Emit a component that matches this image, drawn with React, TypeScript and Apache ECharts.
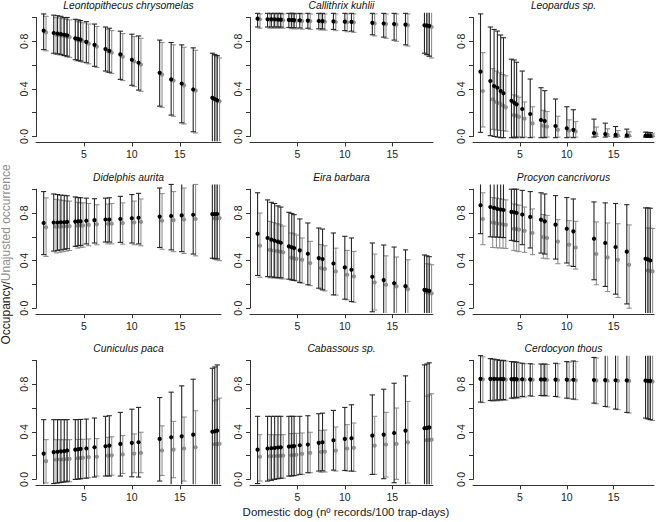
import React, { useEffect, useRef } from "react";
import * as echarts from "echarts";

// x values: domestic dog records / 100 trap-days (shared by all panels)
const dogRecords = [0.8, 1.85, 2.25, 2.6, 2.95, 3.25, 4.1, 4.4, 4.65, 5.25, 6.1, 7.25, 7.65, 8.8, 10.0, 10.7, 12.9, 14.1, 15.2, 16.4, 18.4, 18.65, 18.9];
const xTicks = [5, 10, 15];
const yTicks = [0, 0.2, 0.4, 0.6, 0.8, 1.0];
const yLabelValues = [0, 0.4, 0.8];
const yLabelTexts = ["0·0", "0·4", "0·8"];
const speciesNames = [
  "Leontopithecus chrysomelas", "Callithrix kuhlii", "Leopardus sp.",
  "Didelphis aurita", "Eira barbara", "Procyon cancrivorus",
  "Cuniculus paca", "Cabassous sp.", "Cerdocyon thous",
];

// Leontopithecus chrysomelas
const leoOcc = [0.89, 0.87, 0.865, 0.86, 0.855, 0.85, 0.825, 0.82, 0.815, 0.795, 0.77, 0.735, 0.72, 0.69, 0.645, 0.62, 0.535, 0.48, 0.445, 0.395, 0.325, 0.315, 0.305];
const leoOccLo = [0.73, 0.70, 0.695, 0.69, 0.68, 0.675, 0.645, 0.64, 0.635, 0.62, 0.59, 0.55, 0.54, 0.48, 0.43, 0.39, 0.255, 0.18, 0.115, 0.04, -0.1, -0.1, -0.1];
const leoOccHi = [1.03, 1.02, 1.015, 1.01, 1.0, 1.0, 0.985, 0.98, 0.975, 0.965, 0.945, 0.92, 0.91, 0.885, 0.86, 0.845, 0.81, 0.79, 0.77, 0.745, 0.70, 0.69, 0.68];
const leoNai = [0.875, 0.855, 0.85, 0.845, 0.84, 0.835, 0.81, 0.805, 0.80, 0.78, 0.755, 0.72, 0.705, 0.67, 0.63, 0.605, 0.52, 0.47, 0.43, 0.385, 0.31, 0.30, 0.295];
const leoNaiLo = [0.72, 0.69, 0.685, 0.68, 0.67, 0.665, 0.635, 0.63, 0.625, 0.61, 0.58, 0.54, 0.53, 0.47, 0.42, 0.38, 0.245, 0.17, 0.105, 0.03, -0.1, -0.1, -0.1];
const leoNaiHi = [1.01, 1.0, 0.995, 0.99, 0.985, 0.98, 0.965, 0.96, 0.955, 0.945, 0.925, 0.9, 0.89, 0.865, 0.84, 0.825, 0.79, 0.77, 0.75, 0.725, 0.68, 0.67, 0.66];

// Callithrix kuhlii
const calOcc = [0.99, 0.985, 0.985, 0.985, 0.983, 0.982, 0.98, 0.979, 0.978, 0.976, 0.974, 0.971, 0.97, 0.967, 0.965, 0.963, 0.955, 0.95, 0.945, 0.94, 0.935, 0.933, 0.93];
const calOccLo = [0.92, 0.92, 0.92, 0.92, 0.92, 0.92, 0.916, 0.915, 0.915, 0.912, 0.91, 0.905, 0.904, 0.9, 0.89, 0.885, 0.855, 0.835, 0.81, 0.77, 0.70, 0.69, 0.675];
const calOccHi = [1.035, 1.035, 1.035, 1.035, 1.035, 1.035, 1.035, 1.035, 1.035, 1.035, 1.035, 1.035, 1.035, 1.035, 1.035, 1.035, 1.035, 1.035, 1.035, 1.035, 1.06, 1.06, 1.06];
const calNai = [0.985, 0.98, 0.98, 0.98, 0.978, 0.977, 0.975, 0.974, 0.973, 0.971, 0.969, 0.966, 0.965, 0.962, 0.96, 0.958, 0.95, 0.945, 0.94, 0.935, 0.925, 0.923, 0.92];
const calNaiLo = [0.91, 0.91, 0.91, 0.91, 0.91, 0.91, 0.906, 0.905, 0.905, 0.902, 0.9, 0.895, 0.894, 0.89, 0.88, 0.875, 0.845, 0.825, 0.80, 0.76, 0.685, 0.675, 0.66];
const calNaiHi = [1.03, 1.03, 1.03, 1.03, 1.03, 1.03, 1.03, 1.03, 1.03, 1.03, 1.03, 1.03, 1.03, 1.03, 1.03, 1.03, 1.03, 1.03, 1.03, 1.03, 1.06, 1.06, 1.06];

// Leopardus sp.
const leaOcc = [0.545, 0.466, 0.424, 0.41, 0.382, 0.363, 0.30, 0.284, 0.27, 0.231, 0.189, 0.139, 0.13, 0.088, 0.069, 0.056, 0.028, 0.02, 0.014, 0.01, 0.006, 0.005, 0.005];
const leaOccLo = [0.035, 0.007, 0.0, -0.005, -0.01, -0.01, -0.01, -0.01, -0.01, -0.01, -0.01, -0.01, -0.01, -0.01, -0.01, -0.01, -0.005, -0.005, -0.005, -0.005, -0.005, -0.005, -0.005];
const leaOccHi = [1.03, 0.92, 0.90, 0.886, 0.853, 0.83, 0.65, 0.643, 0.624, 0.55, 0.483, 0.41, 0.385, 0.315, 0.25, 0.225, 0.146, 0.112, 0.084, 0.062, 0.037, 0.035, 0.033];
const leaNai = [0.382, 0.312, 0.29, 0.28, 0.26, 0.245, 0.18, 0.175, 0.165, 0.15, 0.11, 0.09, 0.082, 0.056, 0.048, 0.042, 0.02, 0.015, 0.01, 0.008, 0.005, 0.004, 0.004];
const leaNaiLo = [0.08, 0.06, 0.055, 0.05, 0.05, 0.045, 0.0, 0.0, 0.0, -0.005, -0.005, -0.005, -0.005, -0.005, -0.005, -0.005, 0.0, 0.0, 0.0, 0.0, 0.0, 0.0, 0.0];
const leaNaiHi = [0.705, 0.57, 0.55, 0.535, 0.52, 0.51, 0.35, 0.34, 0.33, 0.29, 0.25, 0.22, 0.21, 0.17, 0.14, 0.125, 0.08, 0.065, 0.05, 0.04, 0.025, 0.024, 0.023];

// Didelphis aurita
const didOcc = [0.716, 0.72, 0.72, 0.722, 0.722, 0.725, 0.728, 0.73, 0.73, 0.735, 0.74, 0.745, 0.745, 0.75, 0.756, 0.76, 0.77, 0.775, 0.78, 0.785, 0.79, 0.79, 0.792];
const didOccLo = [0.45, 0.48, 0.485, 0.49, 0.495, 0.5, 0.52, 0.525, 0.528, 0.54, 0.548, 0.556, 0.556, 0.553, 0.548, 0.54, 0.51, 0.49, 0.475, 0.455, 0.42, 0.418, 0.415];
const didOccHi = [0.98, 0.96, 0.955, 0.95, 0.948, 0.945, 0.935, 0.93, 0.928, 0.925, 0.92, 0.925, 0.928, 0.94, 0.955, 0.965, 1.01, 1.04, 1.06, 1.08, 1.1, 1.1, 1.1];
const didNai = [0.68, 0.685, 0.685, 0.687, 0.687, 0.69, 0.693, 0.695, 0.695, 0.70, 0.705, 0.71, 0.71, 0.715, 0.72, 0.725, 0.735, 0.74, 0.745, 0.75, 0.755, 0.755, 0.757];
const didNaiLo = [0.435, 0.465, 0.47, 0.475, 0.48, 0.485, 0.505, 0.51, 0.513, 0.525, 0.533, 0.541, 0.541, 0.538, 0.533, 0.525, 0.495, 0.475, 0.46, 0.44, 0.41, 0.405, 0.40];
const didNaiHi = [0.927, 0.915, 0.91, 0.905, 0.9, 0.9, 0.89, 0.885, 0.885, 0.88, 0.87, 0.875, 0.88, 0.885, 0.9, 0.918, 0.963, 0.98, 1.01, 1.04, 1.07, 1.07, 1.07];

// Eira barbara
const eirOcc = [0.626, 0.59, 0.576, 0.567, 0.559, 0.55, 0.52, 0.512, 0.505, 0.486, 0.458, 0.421, 0.413, 0.376, 0.343, 0.323, 0.264, 0.236, 0.21, 0.185, 0.154, 0.15, 0.146];
const eirOccLo = [0.275, 0.265, 0.263, 0.26, 0.258, 0.256, 0.244, 0.238, 0.233, 0.216, 0.197, 0.168, 0.154, 0.112, 0.076, 0.056, -0.03, -0.06, -0.08, -0.1, -0.15, -0.15, -0.15];
const eirOccHi = [0.97, 0.91, 0.89, 0.88, 0.86, 0.85, 0.806, 0.796, 0.786, 0.75, 0.716, 0.674, 0.665, 0.632, 0.604, 0.59, 0.548, 0.531, 0.514, 0.49, 0.447, 0.44, 0.433];
const eirNai = [0.525, 0.49, 0.485, 0.48, 0.475, 0.47, 0.425, 0.42, 0.415, 0.407, 0.379, 0.337, 0.33, 0.309, 0.281, 0.267, 0.216, 0.197, 0.183, 0.16, 0.132, 0.128, 0.125];
const eirNaiLo = [0.26, 0.255, 0.253, 0.25, 0.248, 0.246, 0.24, 0.235, 0.228, 0.21, 0.19, 0.16, 0.145, 0.11, 0.07, 0.05, -0.015, -0.05, -0.07, -0.1, -0.15, -0.15, -0.15];
const eirNaiHi = [0.80, 0.73, 0.72, 0.71, 0.70, 0.69, 0.632, 0.625, 0.615, 0.59, 0.562, 0.534, 0.525, 0.505, 0.486, 0.477, 0.455, 0.44, 0.43, 0.407, 0.373, 0.37, 0.365];

// Procyon cancrivorus
const proOcc = [0.865, 0.85, 0.843, 0.834, 0.829, 0.825, 0.809, 0.806, 0.80, 0.787, 0.767, 0.744, 0.73, 0.702, 0.668, 0.646, 0.584, 0.548, 0.514, 0.475, 0.416, 0.41, 0.401];
const proOccLo = [0.626, 0.6, 0.598, 0.597, 0.595, 0.593, 0.57, 0.565, 0.56, 0.534, 0.506, 0.463, 0.455, 0.413, 0.38, 0.351, 0.239, 0.183, 0.118, 0.036, -0.1, -0.1, -0.1];
const proOccHi = [1.05, 1.05, 1.05, 1.05, 1.05, 1.05, 1.0, 1.0, 1.0, 0.99, 0.98, 0.97, 0.96, 0.946, 0.93, 0.918, 0.893, 0.885, 0.88, 0.87, 0.843, 0.843, 0.84];
const proNai = [0.75, 0.72, 0.715, 0.71, 0.705, 0.70, 0.668, 0.665, 0.66, 0.65, 0.632, 0.598, 0.59, 0.56, 0.534, 0.51, 0.455, 0.427, 0.407, 0.365, 0.317, 0.313, 0.31];
const proNaiLo = [0.534, 0.51, 0.508, 0.506, 0.504, 0.502, 0.486, 0.48, 0.475, 0.469, 0.45, 0.42, 0.415, 0.374, 0.357, 0.329, 0.197, 0.14, 0.09, 0.0, -0.1, -0.1, -0.1];
const proNaiHi = [0.97, 0.93, 0.925, 0.92, 0.915, 0.91, 0.876, 0.87, 0.865, 0.85, 0.834, 0.787, 0.78, 0.744, 0.736, 0.73, 0.725, 0.716, 0.71, 0.70, 0.674, 0.672, 0.67];

// Cuniculus paca
const cunOcc = [0.217, 0.229, 0.232, 0.235, 0.238, 0.243, 0.25, 0.253, 0.256, 0.26, 0.27, 0.279, 0.284, 0.298, 0.307, 0.312, 0.34, 0.354, 0.362, 0.376, 0.40, 0.405, 0.41];
const cunOccLo = [-0.06, -0.035, -0.03, -0.025, -0.02, -0.015, 0.0, 0.003, 0.006, 0.01, 0.02, 0.028, 0.028, 0.028, 0.022, 0.02, -0.014, -0.05, -0.08, -0.12, -0.15, -0.15, -0.15];
const cunOccHi = [0.502, 0.502, 0.502, 0.502, 0.502, 0.502, 0.502, 0.503, 0.504, 0.507, 0.516, 0.53, 0.535, 0.563, 0.59, 0.605, 0.688, 0.733, 0.786, 0.842, 0.934, 0.945, 0.962];
const cunNai = [0.153, 0.165, 0.167, 0.168, 0.17, 0.172, 0.178, 0.18, 0.182, 0.187, 0.19, 0.2, 0.202, 0.21, 0.217, 0.223, 0.243, 0.25, 0.26, 0.27, 0.295, 0.297, 0.3];
const cunNaiLo = [-0.03, -0.03, -0.028, -0.025, -0.022, -0.02, 0.0, 0.005, 0.01, 0.014, 0.028, 0.033, 0.035, 0.05, 0.056, 0.056, 0.033, 0.014, -0.014, -0.05, -0.1, -0.1, -0.1];
const cunNaiHi = [0.334, 0.334, 0.334, 0.334, 0.334, 0.334, 0.335, 0.336, 0.337, 0.34, 0.343, 0.354, 0.358, 0.368, 0.382, 0.396, 0.45, 0.488, 0.524, 0.577, 0.66, 0.67, 0.683];

// Cabassous sp.
const cabOcc = [0.25, 0.26, 0.262, 0.265, 0.268, 0.27, 0.276, 0.278, 0.28, 0.287, 0.293, 0.307, 0.312, 0.329, 0.34, 0.346, 0.368, 0.376, 0.39, 0.41, 0.43, 0.433, 0.437];
const cabOccLo = [-0.035, -0.014, -0.008, 0.0, 0.006, 0.01, 0.028, 0.03, 0.033, 0.042, 0.056, 0.07, 0.072, 0.078, 0.075, 0.07, 0.042, 0.006, -0.028, -0.06, -0.1, -0.1, -0.1];
const cabOccHi = [0.53, 0.53, 0.53, 0.53, 0.53, 0.53, 0.53, 0.53, 0.53, 0.53, 0.535, 0.552, 0.557, 0.58, 0.605, 0.627, 0.71, 0.758, 0.808, 0.87, 0.962, 0.97, 0.98];
const cabNai = [0.19, 0.195, 0.196, 0.197, 0.198, 0.2, 0.203, 0.205, 0.207, 0.215, 0.223, 0.23, 0.233, 0.242, 0.26, 0.265, 0.284, 0.293, 0.298, 0.312, 0.33, 0.332, 0.334];
const cabNaiLo = [-0.014, 0.0, 0.003, 0.006, 0.008, 0.01, 0.028, 0.03, 0.033, 0.042, 0.056, 0.06, 0.062, 0.07, 0.07, 0.067, 0.042, 0.02, 0.0, -0.03, -0.1, -0.1, -0.1];
const cabNaiHi = [0.376, 0.376, 0.376, 0.376, 0.376, 0.376, 0.385, 0.386, 0.387, 0.39, 0.396, 0.412, 0.415, 0.44, 0.46, 0.474, 0.53, 0.563, 0.6, 0.655, 0.70, 0.71, 0.72];

// Cerdocyon thous
const cerOcc = [0.845, 0.845, 0.845, 0.844, 0.844, 0.844, 0.843, 0.843, 0.842, 0.842, 0.841, 0.84, 0.84, 0.839, 0.838, 0.837, 0.835, 0.834, 0.833, 0.832, 0.83, 0.829, 0.828];
const cerOccLo = [0.65, 0.663, 0.665, 0.667, 0.669, 0.671, 0.683, 0.686, 0.69, 0.697, 0.702, 0.705, 0.705, 0.697, 0.683, 0.675, 0.641, 0.613, 0.591, 0.563, 0.515, 0.51, 0.502];
const cerOccHi = [1.04, 1.015, 1.01, 1.005, 1.0, 1.0, 0.99, 0.988, 0.985, 0.976, 0.972, 0.97, 0.97, 0.976, 0.99, 0.995, 1.025, 1.05, 1.07, 1.09, 1.12, 1.12, 1.12];
const cerNai = [0.84, 0.84, 0.84, 0.839, 0.839, 0.839, 0.838, 0.838, 0.837, 0.837, 0.836, 0.835, 0.835, 0.834, 0.833, 0.832, 0.83, 0.829, 0.828, 0.827, 0.824, 0.823, 0.822];
const cerNaiLo = [0.645, 0.658, 0.66, 0.662, 0.664, 0.666, 0.678, 0.681, 0.685, 0.692, 0.697, 0.7, 0.7, 0.692, 0.678, 0.67, 0.636, 0.608, 0.586, 0.558, 0.508, 0.503, 0.495];
const cerNaiHi = [1.03, 1.01, 1.005, 1.0, 0.995, 0.995, 0.985, 0.983, 0.98, 0.972, 0.968, 0.966, 0.966, 0.972, 0.985, 0.99, 1.02, 1.045, 1.065, 1.085, 1.11, 1.11, 1.11];

const panelData = [
  [leoOcc, leoOccLo, leoOccHi, leoNai, leoNaiLo, leoNaiHi],
  [calOcc, calOccLo, calOccHi, calNai, calNaiLo, calNaiHi],
  [leaOcc, leaOccLo, leaOccHi, leaNai, leaNaiLo, leaNaiHi],
  [didOcc, didOccLo, didOccHi, didNai, didNaiLo, didNaiHi],
  [eirOcc, eirOccLo, eirOccHi, eirNai, eirNaiLo, eirNaiHi],
  [proOcc, proOccLo, proOccHi, proNai, proNaiLo, proNaiHi],
  [cunOcc, cunOccLo, cunOccHi, cunNai, cunNaiLo, cunNaiHi],
  [cabOcc, cabOccLo, cabOccHi, cabNai, cabNaiLo, cabNaiHi],
  [cerOcc, cerOccLo, cerOccHi, cerNai, cerNaiLo, cerNaiHi],
];

const FONT = "'Liberation Sans', Arial, Helvetica, sans-serif";
const OCC_COLOR = "#262626";
const OCC_DOT = "#000000";
const NAI_COLOR = "#909090";
const AXIS_COLOR = "#333333";
const GREY_SHIFT = 0.25;
const X_MAX = 19.3;

const colLeft = [36, 250, 473];
const colWidth = [185, 183, 181];
const rowTop = [17.5, 189.2, 360.4];
const rowHeight = 119;

function makeRender(color: string, dot: string) {
  return (params: any, api: any) => {
    const cs = params.coordSys;
    const pad = cs.height * 0.04;
    const top = cs.y - pad;
    const bot = cs.y + cs.height + pad;
    const x = api.value(0);
    const m = api.value(1);
    const lo = api.value(2);
    const hi = api.value(3);
    const pm = api.coord([x, m]);
    const yLo = api.coord([x, lo])[1];
    const yHi = api.coord([x, hi])[1];
    const px = pm[0];
    const y1 = Math.max(top, yHi);
    const y2 = Math.min(bot, yLo);
    const st = { stroke: color, lineWidth: 1.1 };
    const children: any[] = [
      { type: "line", shape: { x1: px, y1, x2: px, y2 }, style: st },
    ];
    if (yHi >= top) children.push({ type: "line", shape: { x1: px - 2.6, y1: yHi, x2: px + 2.6, y2: yHi }, style: st });
    if (yLo <= bot) children.push({ type: "line", shape: { x1: px - 2.6, y1: yLo, x2: px + 2.6, y2: yLo }, style: st });
    children.push({ type: "circle", shape: { cx: px, cy: pm[1], r: 2.1 }, style: { fill: dot } });
    return { type: "group", children };
  };
}

export default function App() {
  const ref = useRef<HTMLDivElement>(null);
  useEffect(() => {
    document.body.style.margin = "0";
    const chart = echarts.init(ref.current!, null, { renderer: "svg" });
    const grid: any[] = [];
    const xAxis: any[] = [];
    const yAxis: any[] = [];
    const series: any[] = [];
    const graphic: any[] = [];
    panelData.forEach((arrs, i) => {
      const row = Math.floor(i / 3);
      const col = i % 3;
      grid.push({ left: colLeft[col], top: rowTop[row], width: colWidth[col], height: rowHeight });
      xAxis.push({
        gridIndex: i, type: "value", min: 0, max: X_MAX, offset: 6,
        axisLine: { show: true, onZero: false, lineStyle: { color: AXIS_COLOR, width: 1 } },
        axisTick: { show: true, length: 4, customValues: xTicks, lineStyle: { color: AXIS_COLOR } },
        axisLabel: { customValues: xTicks, fontSize: 10.5, color: "#222", margin: 6, fontFamily: FONT },
        splitLine: { show: false },
      });
      yAxis.push({
        gridIndex: i, type: "value", min: 0, max: 1, interval: 0.2,
        axisLine: { show: true, lineStyle: { color: AXIS_COLOR, width: 1 } },
        axisTick: { show: true, length: 4, customValues: yTicks, lineStyle: { color: AXIS_COLOR } },
        axisLabel: {
          customValues: yLabelValues, rotate: 90, fontSize: 10.5, color: "#222", margin: 7, fontFamily: FONT,
          formatter: (v: number) => {
            const k = yLabelValues.findIndex((t) => Math.abs(t - v) < 1e-6);
            return k >= 0 ? yLabelTexts[k] : "";
          },
        },
        splitLine: { show: false },
      });
      const [occ, occLo, occHi, nai, naiLo, naiHi] = arrs;
      series.push({
        type: "custom", xAxisIndex: i, yAxisIndex: i, renderItem: makeRender(NAI_COLOR, NAI_COLOR),
        encode: { x: 0, y: 1 },
        data: dogRecords.map((x, k) => [x + GREY_SHIFT, nai[k], naiLo[k], naiHi[k]]),
      });
      series.push({
        type: "custom", xAxisIndex: i, yAxisIndex: i, renderItem: makeRender(OCC_COLOR, OCC_DOT),
        encode: { x: 0, y: 1 },
        data: dogRecords.map((x, k) => [x, occ[k], occLo[k], occHi[k]]),
      });
      graphic.push({
        type: "text",
        x: colLeft[col] + colWidth[col] / 2,
        y: rowTop[row] - 12,
        style: {
          text: speciesNames[i], fill: "#111", fontSize: 10.3, fontStyle: "italic", fontFamily: FONT,
          align: "center", verticalAlign: "middle", textAlign: "center", textVerticalAlign: "middle",
        },
      });
    });
    graphic.push({
      type: "text", x: 346, y: 512,
      style: {
        text: "Domestic dog (nº records/100 trap-days)", fill: "#222", fontSize: 11.5, fontFamily: FONT,
        align: "center", verticalAlign: "middle", textAlign: "center", textVerticalAlign: "middle",
      },
    });
    graphic.push({
      type: "text", x: 6, y: 254.5, rotation: Math.PI / 2,
      style: {
        text: "{a|Occupancy/}{b|Unajusted occurrence}", fontSize: 12, fontFamily: FONT,
        align: "center", verticalAlign: "middle", textAlign: "center", textVerticalAlign: "middle",
        rich: {
          a: { fill: "#222", color: "#222", fontSize: 12, fontFamily: FONT },
          b: { fill: "#8e8e8e", color: "#8e8e8e", fontSize: 12, fontFamily: FONT },
        },
      },
    });
    chart.setOption({
      animation: false,
      backgroundColor: "#ffffff",
      grid, xAxis, yAxis, series, graphic,
    });
    return () => chart.dispose();
  }, []);
  return <div ref={ref} style={{ width: 659, height: 522 }} />;
}
